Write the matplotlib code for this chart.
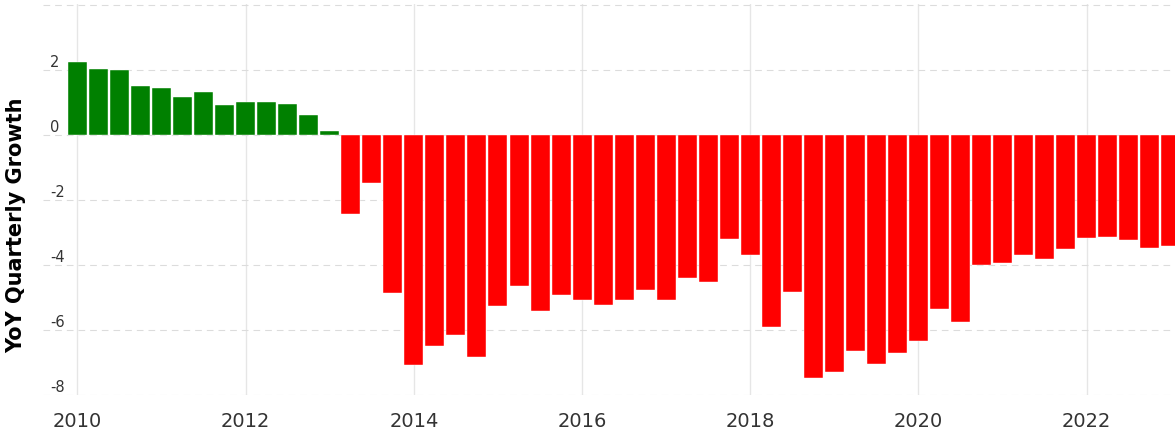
import pandas as pd
import numpy as np
import matplotlib
matplotlib.use('Agg')
import matplotlib.pyplot as plt

# quarterly YoY growth, 2010Q1 .. 2023Q1
quarters = pd.period_range('2010Q1', '2023Q1', freq='Q')
growth = [2.24, 2.03, 1.99, 1.50, 1.45, 1.15, 1.30, 0.91, 1.01, 1.01, 0.96, 0.62, 0.12,
          -2.43, -1.49, -4.88,
          -7.09, -6.49, -6.15, -6.84,
          -5.27, -4.64, -5.42, -4.92,
          -5.08, -5.23, -5.08, -4.78,
          -5.08, -4.39, -4.53, -3.21,
          -3.71, -5.91, -4.83, -7.47,
          -7.28, -6.64, -7.04, -6.70,
          -6.35, -5.37, -5.76, -4.00,
          -3.95, -3.71, -3.81, -3.52,
          -3.18, -3.13, -3.23, -3.47,
          -3.41]
year_ticks = [2010, 2012, 2014, 2016, 2018, 2020, 2022]
y_ticks = [-8, -6, -4, -2, 0, 2]

x = np.array([p.year + (p.quarter - 1) / 4 for p in quarters])
vals = np.array(growth)
colors = np.where(vals >= 0, '#008000', '#ff0000')

fig = plt.figure(figsize=(11.75, 4.33), dpi=100)
ax = fig.add_axes([0.0366, 0.0878, 0.9634, 0.903])

ax.bar(x, vals, width=0.226, color=colors, edgecolor='white', linewidth=0.3, zorder=2)

ax.set_xlim(2009.59, 2023.05)
ax.set_ylim(-8, 4.02)

ax.set_xticks(year_ticks)
ax.set_xticklabels([str(y) for y in year_ticks])
ax.set_yticks(y_ticks + [4])
ax.set_yticklabels([str(v) for v in y_ticks] + [''])

for s in ax.spines.values():
    s.set_visible(False)
ax.set_axisbelow(True)
ax.xaxis.grid(True, color='#e6e6e6', linewidth=1.0, linestyle='-')
ax.yaxis.grid(True, color='#dcdcdc', linewidth=0.8, linestyle=(0, (6, 4.5)))

ax.tick_params(axis='both', length=0)
ax.tick_params(axis='x', labelsize=14, pad=12, labelcolor='#333333')
ax.tick_params(axis='y', labelsize=10.5, pad=-5, labelcolor='#333333')
plt.setp(ax.get_yticklabels(), ha='left', va='bottom')

ax.set_ylabel('YoY Quarterly Growth', fontsize=15, fontweight='bold', color='black')
ax.yaxis.set_label_coords(-0.0150, 0.435)

fig.savefig('out.png', dpi=100)
